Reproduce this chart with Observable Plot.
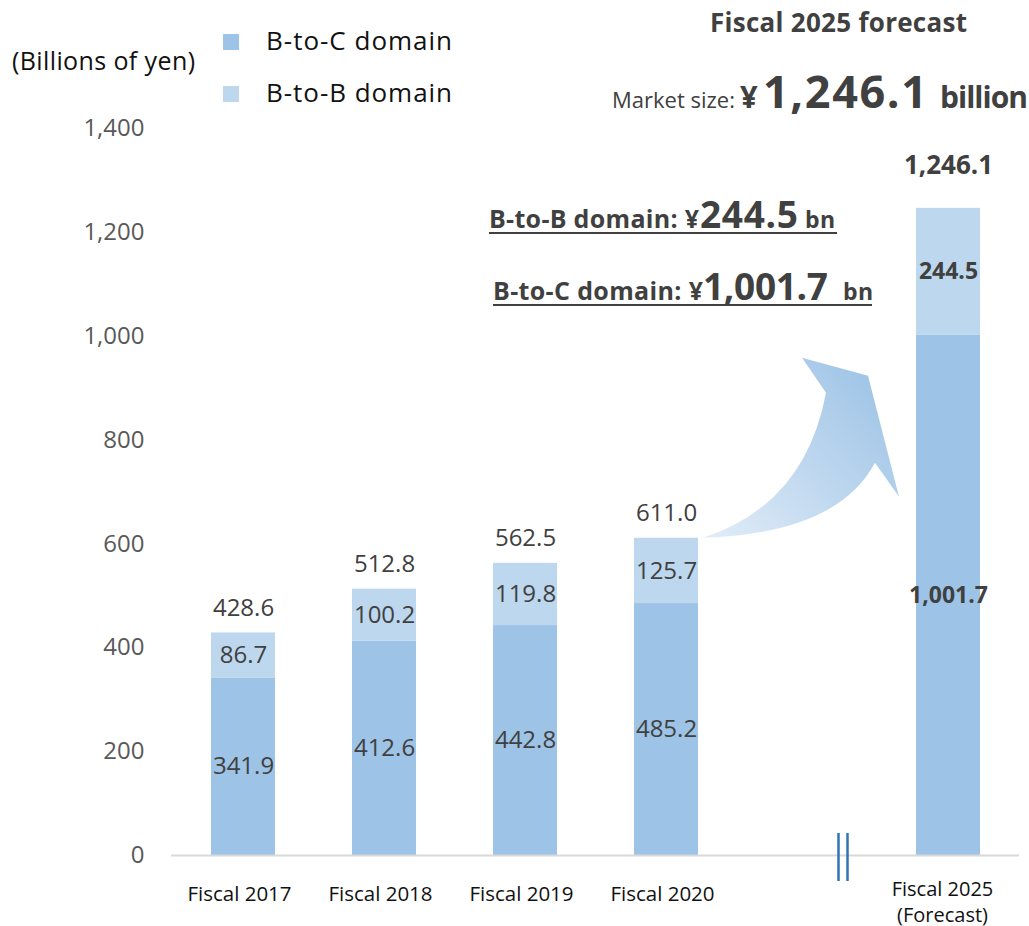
<!DOCTYPE html>
<html><head><meta charset="utf-8">
<script src="https://cdn.jsdelivr.net/npm/d3@7"></script>
<script src="https://cdn.jsdelivr.net/npm/@observablehq/plot@0.6"></script>
<style>
body{margin:0;background:#fff;}
#chart{width:1029px;height:926px;}
</style></head><body><div id="chart"></div>
<script>
// ---- data ----
const years = ["Fiscal 2017","Fiscal 2018","Fiscal 2019","Fiscal 2020","Fiscal 2025"];
const yearLabels = ["Fiscal 2017","Fiscal 2018","Fiscal 2019","Fiscal 2020","Fiscal 2025\n(Forecast)"];
const btocValues = [341.9, 412.6, 442.8, 485.2, 1001.7];
const btobValues = [86.7, 100.2, 119.8, 125.7, 244.5];
const totalValues = [428.6, 512.8, 562.5, 611.0, 1246.1];
const isForecast = [false, false, false, false, true];
const seriesNames = ["B-to-C domain", "B-to-B domain"];
const seriesColors = ["#9dc3e6", "#bdd7ee"];
const yTicks = [0, 200, 400, 600, 800, 1000, 1200, 1400];
const gapSlot = "(gap)";
const xDomain = [...years.slice(0, 4), gapSlot, years[4]];

const fmt = d3.format(",.1f");
const FONT = "'Open Sans', Lato, sans-serif";

const rows = years.flatMap((yr, i) => [
  {year: yr, series: seriesNames[0], y1: 0, y2: btocValues[i], value: btocValues[i], forecast: isForecast[i]},
  {year: yr, series: seriesNames[1], y1: btocValues[i], y2: btocValues[i] + btobValues[i], value: btobValues[i], forecast: isForecast[i]}
]).map(d => ({...d, mid: (d.y1 + d.y2) / 2}));
const totals = years.map((yr, i) => ({year: yr, total: totalValues[i], top: btocValues[i] + btobValues[i], forecast: isForecast[i]}));

function addText(g, {x, y, text, size, weight = 400, fill = "#404040", width = null}) {
  const t = g.append("text").attr("x", x).attr("y", y).attr("text-anchor", "start")
    .attr("font-size", size).attr("font-weight", weight).attr("fill", fill).text(text);
  if (width) t.attr("textLength", width).attr("lengthAdjust", "spacing");
  return t;
}

function decorations(index, scales) {
  const x = scales.x, y = scales.y;
  const bw = x.bandwidth();
  const g = d3.create("svg:g").attr("font-family", FONT).attr("text-anchor", "start");
  // axis break marker
  const gx = x(gapSlot) + bw / 2 + 36;
  for (const off of [-4.5, 4.5]) {
    g.append("line").attr("x1", gx + off).attr("x2", gx + off)
      .attr("y1", y(0) - 22).attr("y2", y(0) + 26)
      .attr("stroke", "#2e75b6").attr("stroke-width", 2.5);
  }
  // curved growth arrow from the 2020 bar top toward the 2025 bar
  const ax = x(years[3]) + bw, ay = y(totalValues[3]);
  const grad = g.append("defs").append("linearGradient").attr("id", "arrowGrad")
    .attr("gradientUnits", "userSpaceOnUse")
    .attr("x1", ax + 5).attr("y1", ay).attr("x2", ax + 185).attr("y2", ay - 165);
  grad.append("stop").attr("offset", "0").attr("stop-color", "#e2edf8");
  grad.append("stop").attr("offset", "1").attr("stop-color", "#9dc3e6");
  const p = (dx, dy) => `${ax + dx},${ay + dy}`;
  g.append("path")
    .attr("d", `M${p(5,0)} Q${p(107,-33)} ${p(128,-145)} L${p(104,-180)} L${p(170,-162)} L${p(201,-41)} L${p(177,-75)} Q${p(139,-4)} ${p(5,0)} Z`)
    .attr("fill", "url(#arrowGrad)");

  // unit label
  addText(g, {x: 12, y: 70, text: "(Billions of yen)", size: 25, fill: "#111", width: 183});
  // legend
  seriesNames.forEach((name, i) => {
    const by = [50, 102][i];
    g.append("rect").attr("x", 223).attr("y", by - 16).attr("width", 16).attr("height", 16).attr("fill", seriesColors[i]);
    addText(g, {x: 266, y: by, text: name, size: 26, fill: "#111", width: 186});
  });
  // forecast headline
  addText(g, {x: 710, y: 32, text: "Fiscal 2025 forecast", size: 26, weight: 700, width: 257});
  addText(g, {x: 612, y: 108, text: "Market size:", size: 22});
  addText(g, {x: 740, y: 108, text: "¥", size: 31, weight: 700, width: 18});
  addText(g, {x: 763, y: 108, text: fmt(totalValues[4]), size: 45, weight: 700, width: 164});
  addText(g, {x: 940, y: 108, text: "billion", size: 30, weight: 700, width: 88});
  // domain call-outs (underlined)
  const callouts = [
    {label: "B-to-B domain: ¥", value: btobValues[4], x: 489, y: 228, vx: 700, vw: 98, bx: 805, end: 837},
    {label: "B-to-C domain: ¥", value: btocValues[4], x: 493, y: 300, vx: 703, vw: 125, bx: 843, end: 872}
  ];
  for (const c of callouts) {
    addText(g, {x: c.x, y: c.y, text: c.label, size: 25, weight: 700, width: 210});
    addText(g, {x: c.vx, y: c.y, text: fmt(c.value), size: 37, weight: 700, width: c.vw});
    addText(g, {x: c.bx, y: c.y, text: "bn", size: 23, weight: 700, width: 30});
    g.append("line").attr("x1", c.x).attr("x2", c.end).attr("y1", c.y + 5).attr("y2", c.y + 5)
      .attr("stroke", "#404040").attr("stroke-width", 2);
  }
  return g.node();
}

const chart = Plot.plot({
  width: 1029,
  height: 926,
  marginLeft: 171,
  marginRight: 10,
  marginTop: 128,
  marginBottom: 71,
  style: {fontFamily: FONT, background: "white", overflow: "visible"},
  x: {type: "band", domain: xDomain, paddingInner: 0.547, paddingOuter: 0.2735, align: 0.5, label: null},
  y: {domain: [0, 1400], label: null},
  color: {domain: seriesNames, range: seriesColors},
  marks: [
    Plot.barY(rows, {x: "year", y1: "y1", y2: "y2", fill: "series"}),
    Plot.ruleY([0], {stroke: "#d9d9d9", strokeWidth: 2}),
    Plot.axisY({ticks: yTicks, tickSize: 0, tickPadding: 27, fontSize: 24, fill: "#595959", tickFormat: d3.format(","), label: null}),
    Plot.axisX(years.slice(0, 4), {tickSize: 0, tickPadding: 31, dx: -4, fontSize: 20.5, fill: "#111", label: null}),
    Plot.axisX([years[4]], {tickSize: 0, tickPadding: 22, dx: -6, fontSize: 20, fill: "#111", label: null, lineHeight: 1.3,
      tickFormat: d => yearLabels[years.indexOf(d)]}),
    Plot.text(rows.filter(d => !d.forecast), {x: "year", y: "mid", text: d => fmt(d.value), fontSize: 24, fill: "#404040"}),
    Plot.text(rows.filter(d => d.forecast), {x: "year", y: "mid", text: d => fmt(d.value), fontSize: 23, fontWeight: 700, fill: "#404040"}),
    Plot.text(totals.filter(d => !d.forecast), {x: "year", y: "top", dy: -25, text: d => fmt(d.total), fontSize: 24, fill: "#404040"}),
    Plot.text(totals.filter(d => d.forecast), {x: "year", y: "top", dy: -43, text: d => fmt(d.total), fontSize: 26, fontWeight: 700, fill: "#404040"}),
    decorations
  ]
});
document.getElementById("chart").append(chart);
</script>
</body></html>
